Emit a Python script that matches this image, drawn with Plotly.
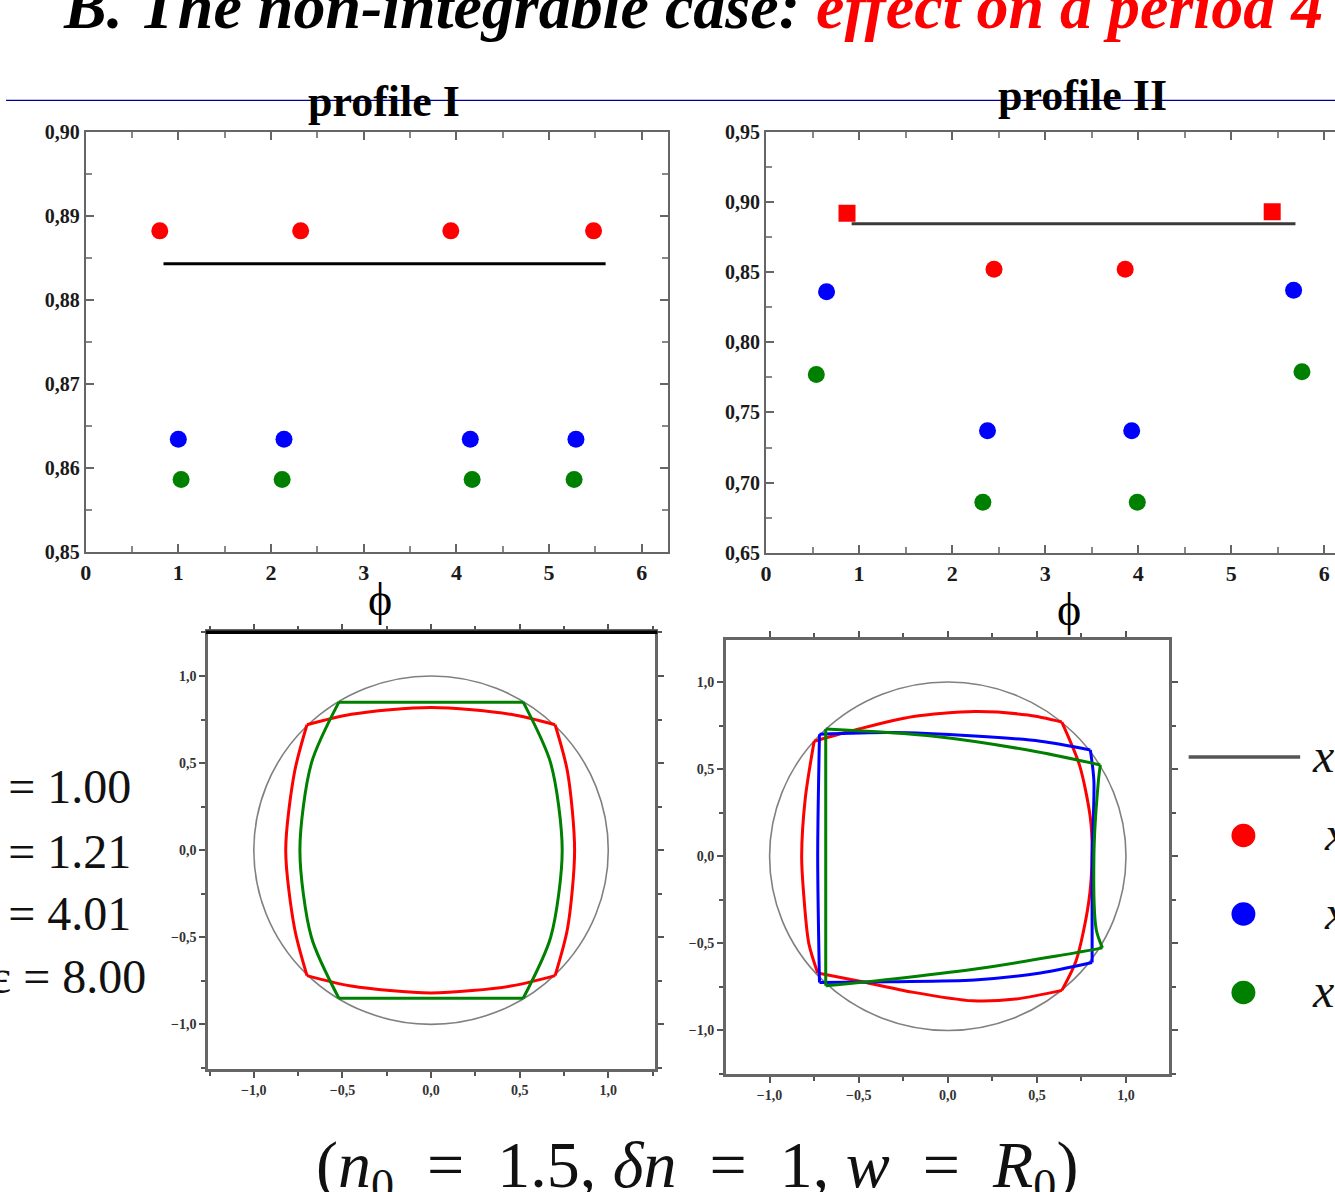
import plotly.graph_objects as go

W, H = 1335, 1192
SERIF = "Times New Roman, Liberation Serif, serif"

# ---------------- data: profile I (phase vs. invariant) ----------------
phi_I_red = [0.80, 2.32, 3.94, 5.48]
val_I_red = [0.8882, 0.8882, 0.8882, 0.8882]
phi_I_blue = [1.00, 2.14, 4.15, 5.29]
val_I_blue = [0.8634, 0.8634, 0.8634, 0.8634]
phi_I_green = [1.03, 2.12, 4.17, 5.27]
val_I_green = [0.8586, 0.8586, 0.8586, 0.8586]
phi_I_line = [0.84, 5.61]
val_I_line = [0.8843, 0.8843]

# ---------------- data: profile II ----------------
phi_II_red = [0.87, 2.45, 3.86, 5.44]
val_II_red = [0.892, 0.852, 0.852, 0.893]
sym_II_red = ["square", "circle", "circle", "square"]
phi_II_blue = [0.65, 2.38, 3.93, 5.67]
val_II_blue = [0.836, 0.737, 0.737, 0.837]
phi_II_green = [0.54, 2.33, 3.99, 5.76]
val_II_green = [0.777, 0.686, 0.686, 0.779]
phi_II_line = [0.92, 5.69]
val_II_line = [0.8845, 0.8845]

# ---------------- data: ray paths inside the disk (edges between bounces) ----------------
orbit_I_red = [
    [(-0.70, 0.72), (-0.45, 0.78), (0.0, 0.82), (0.45, 0.78), (0.70, 0.72)],
    [(0.70, 0.72), (0.77, 0.45), (0.81, 0.0), (0.77, -0.45), (0.70, -0.72)],
    [(0.70, -0.72), (0.45, -0.78), (0.0, -0.82), (-0.45, -0.78), (-0.70, -0.72)],
    [(-0.70, -0.72), (-0.77, -0.45), (-0.82, 0.0), (-0.77, 0.45), (-0.70, 0.72)],
]
orbit_I_green = [
    [(-0.52, 0.85), (0.52, 0.85)],
    [(0.52, 0.85), (0.675, 0.5), (0.74, 0.0), (0.675, -0.5), (0.52, -0.85)],
    [(0.52, -0.85), (-0.52, -0.85)],
    [(-0.52, -0.85), (-0.675, -0.5), (-0.74, 0.0), (-0.675, 0.5), (-0.52, 0.85)],
]
orbit_II_red = [
    [(-0.75, 0.66), (-0.5, 0.73), (-0.2, 0.80), (0.15, 0.83), (0.45, 0.81), (0.64, 0.77)],
    [(0.64, 0.77), (0.74, 0.52), (0.80, 0.22), (0.81, 0.0), (0.79, -0.27), (0.72, -0.60), (0.64, -0.77)],
    [(0.64, -0.77), (0.38, -0.82), (0.14, -0.83), (-0.20, -0.78), (-0.48, -0.72), (-0.73, -0.67)],
    [(-0.73, -0.67), (-0.78, -0.50), (-0.81, -0.20), (-0.82, 0.0), (-0.80, 0.33), (-0.75, 0.66)],
]
orbit_II_blue = [
    [(-0.72, 0.70), (-0.32, 0.71), (0.15, 0.69), (0.52, 0.66), (0.80, 0.61)],
    [(0.80, 0.61), (0.82, 0.43), (0.81, 0.0), (0.81, -0.42), (0.81, -0.61)],
    [(0.81, -0.61), (0.52, -0.67), (0.15, -0.71), (-0.32, -0.72), (-0.72, -0.725)],
    [(-0.72, -0.725), (-0.73, 0.0), (-0.72, 0.70)],
]
orbit_II_green = [
    [(-0.685, 0.73), (-0.09, 0.69), (0.50, 0.60), (0.856, 0.524)],
    [(0.856, 0.524), (0.845, 0.43), (0.82, 0.0), (0.833, -0.42), (0.868, -0.526)],
    [(0.868, -0.526), (0.61, -0.573), (0.145, -0.649), (-0.32, -0.706), (-0.685, -0.744)],
    [(-0.685, -0.744), (-0.685, 0.0), (-0.685, 0.73)],
]

eps_labels = ["ε = 1.00", "ε = 1.21", "ε = 4.01", "ε = 8.00"]

RED, BLUE, GREEN = "#ff0000", "#0000ff", "#008000"


def px_x(p):
    return p / W


def px_y(p):
    return 1 - p / H


def path(edges):
    xs, ys = [], []
    for e in edges:
        xs += [p[0] for p in e] + [None]
        ys += [p[1] for p in e] + [None]
    return xs, ys


fig = go.Figure()


def dots(x, y, color, xa, ya, symbol="circle"):
    fig.add_trace(go.Scatter(x=x, y=y, mode="markers", xaxis=xa, yaxis=ya,
                             marker=dict(color=color, size=17, symbol=symbol),
                             showlegend=False, hoverinfo="skip"))


def hline(x, y, color, xa, ya):
    fig.add_trace(go.Scatter(x=x, y=y, mode="lines", xaxis=xa, yaxis=ya,
                             line=dict(color=color, width=3),
                             showlegend=False, hoverinfo="skip"))


hline(phi_I_line, val_I_line, "#000000", "x", "y")
dots(phi_I_red, val_I_red, RED, "x", "y")
dots(phi_I_blue, val_I_blue, BLUE, "x", "y")
dots(phi_I_green, val_I_green, GREEN, "x", "y")

hline(phi_II_line, val_II_line, "#3a3a3a", "x2", "y2")
dots(phi_II_red, val_II_red, RED, "x2", "y2", sym_II_red)
dots(phi_II_blue, val_II_blue, BLUE, "x2", "y2")
dots(phi_II_green, val_II_green, GREEN, "x2", "y2")


def orbit(edges, color, xa, ya):
    xs, ys = path(edges)
    fig.add_trace(go.Scatter(x=xs, y=ys, mode="lines", xaxis=xa, yaxis=ya,
                             line=dict(color=color, width=3, shape="spline", smoothing=0.8),
                             connectgaps=False, showlegend=False, hoverinfo="skip"))


orbit(orbit_I_red, RED, "x3", "y3")
orbit(orbit_I_green, GREEN, "x3", "y3")
orbit(orbit_II_red, RED, "x4", "y4")
orbit(orbit_II_blue, BLUE, "x4", "y4")
orbit(orbit_II_green, GREEN, "x4", "y4")

tick_font_top = dict(family=SERIF, size=20, color="#1a1a1a", weight="bold")
tick_font_xtop = dict(family=SERIF, size=22, color="#1a1a1a", weight="bold")
tick_font_bot = dict(family=SERIF, size=14, color="#333", weight="bold")

common_top = dict(showgrid=False, zeroline=False, showline=True, linecolor="#666", linewidth=2,
                  ticks="inside", ticklen=8, tickwidth=2, tickcolor="#666")
common_bot = dict(showgrid=False, zeroline=False, showline=True, linecolor="#666", linewidth=2.5,
                  ticks="outside", ticklen=6, tickwidth=2, tickcolor="#555", mirror="ticks",
                  dtick=0.5, tickformat=".1f", tickfont=tick_font_bot,
                  minor=dict(dtick=0.25, ticks="outside", ticklen=4, tickcolor="#555", tickwidth=1.5))

fig.update_layout(
    width=W, height=H, autosize=False,
    margin=dict(l=0, r=0, t=0, b=0),
    paper_bgcolor="white", plot_bgcolor="white",
    separators=", ",
    xaxis=dict(domain=[px_x(80), px_x(665)], range=[0, 6.2832], dtick=1, tickformat="d",
               mirror="ticks", tickfont=tick_font_xtop, anchor="y",
               minor=dict(dtick=0.5, ticks="inside", ticklen=6, tickcolor="#888"), **common_top),
    yaxis=dict(domain=[px_y(551), px_y(123)], range=[0.85, 0.90], dtick=0.01, tickformat=".2f",
               mirror="ticks", tickfont=tick_font_top, anchor="x",
               minor=dict(dtick=0.005, ticks="inside", ticklen=6, tickcolor="#888"), **common_top),
    xaxis2=dict(domain=[px_x(763.5), 1.0], range=[0, 6.115], dtick=1, tickformat="d",
                mirror="ticks", tickfont=tick_font_xtop, anchor="y2",
                minor=dict(dtick=0.5, ticks="inside", ticklen=6, tickcolor="#888"), **common_top),
    yaxis2=dict(domain=[px_y(552), px_y(123)], range=[0.65, 0.95], dtick=0.05, tickformat=".2f",
                mirror=False, tickfont=tick_font_top, anchor="x2",
                minor=dict(dtick=0.025, ticks="inside", ticklen=6, tickcolor="#888"), **common_top),
    xaxis3=dict(domain=[px_x(203), px_x(652)], range=[-1.258, 1.264], anchor="y3", **common_bot),
    yaxis3=dict(domain=[px_y(1078), px_y(633)], range=[-1.257, 1.251], anchor="x3", **common_bot),
    xaxis4=dict(domain=[px_x(723), px_x(1168)], range=[-1.246, 1.24], anchor="y4", **common_bot),
    yaxis4=dict(domain=[px_y(1083), px_y(641)], range=[-1.25, 1.24], anchor="x4", **common_bot),
)

shapes = [
    # unit-disk boundary
    dict(type="circle", xref="x3", yref="y3", x0=-1, y0=-1, x1=1, y1=1,
         line=dict(color="#808080", width=1.6), layer="below"),
    dict(type="circle", xref="x4", yref="y4", x0=-1, y0=-1, x1=1, y1=1,
         line=dict(color="#808080", width=1.6), layer="below"),
    # heavy top frame of the left orbit panel
    dict(type="line", xref="x3 domain", yref="y3 domain", x0=-0.005, x1=1.005, y0=1, y1=1,
         line=dict(color="#000000", width=3.5)),
    # slide rule
    dict(type="line", xref="paper", yref="paper", x0=0, x1=1, y0=px_y(91), y1=px_y(91),
         line=dict(color="#000099", width=1.3)),
    # legend keys
    dict(type="line", xref="paper", yref="paper", x0=px_x(1188), x1=px_x(1300),
         y0=px_y(760), y1=px_y(760), line=dict(color="#555555", width=3.5)),
]
for yy, col in [(840, RED), (920, BLUE), (1000, GREEN)]:
    shapes.append(dict(type="circle", xref="paper", yref="paper",
                       x0=px_x(1243 - 12), x1=px_x(1243 + 12),
                       y0=px_y(yy + 12), y1=px_y(yy - 12),
                       fillcolor=col, line=dict(color=col, width=0)))
fig.update_layout(shapes=shapes)

ann = []
# title
ann.append(dict(xref="paper", yref="paper", x=px_x(690), y=px_y(-5), xanchor="center", yanchor="middle",
                showarrow=False,
                text="<b><i>B. The non-integrable case: <span style='color:#ff0000'>effect on a period 4</span></i></b>",
                font=dict(family=SERIF, size=64, color="#000000")))
# panel headers
ann.append(dict(xref="paper", yref="paper", x=px_x(380), y=px_y(92), xanchor="center", yanchor="middle",
                showarrow=False, text="<b>profile I</b>",
                font=dict(family=SERIF, size=44, color="#000000")))
ann.append(dict(xref="paper", yref="paper", x=px_x(1081), y=px_y(86), xanchor="center", yanchor="middle",
                showarrow=False, text="<b>profile II</b>",
                font=dict(family=SERIF, size=44, color="#000000")))
# phase axis titles
for xx, yy in [(376, 600), (1068, 610)]:
    ann.append(dict(xref="paper", yref="paper", x=px_x(xx), y=px_y(yy), xanchor="center", yanchor="middle",
                    showarrow=False, text="ϕ",
                    font=dict(family=SERIF, size=46, color="#000000")))
# epsilon values
for lab, yy, xr in zip(eps_labels, [790, 856, 919, 984], [128, 128, 128, 143]):
    ann.append(dict(xref="paper", yref="paper", x=px_x(xr), y=px_y(yy), xanchor="right", yanchor="middle",
                    showarrow=False, text=lab,
                    font=dict(family=SERIF, size=48, color="#111111")))
# legend labels
for xx, yy in [(1310, 758), (1322, 838), (1322, 918), (1310, 998)]:
    ann.append(dict(xref="paper", yref="paper", x=px_x(xx), y=px_y(yy), xanchor="left", yanchor="middle",
                    showarrow=False, text="<i>x</i>",
                    font=dict(family=SERIF, size=48, color="#111111")))
# parameters
ann.append(dict(xref="paper", yref="paper", x=px_x(694), y=px_y(1180), xanchor="center", yanchor="middle",
                showarrow=False,
                text="(<i>n</i><sub>0</sub>  =  1.5, <i>δn</i>  =  1, <i>w</i>  =  <i>R</i><sub>0</sub>)",
                font=dict(family=SERIF, size=66, color="#111111")))
fig.update_layout(annotations=ann)

fig.write_html("out.html")
